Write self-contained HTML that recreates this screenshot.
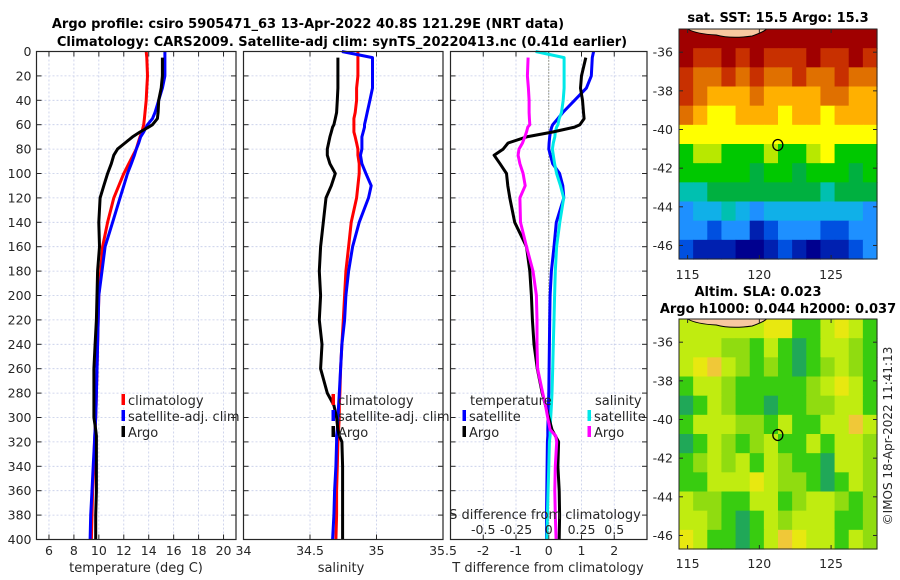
<!DOCTYPE html>
<html><head><meta charset="utf-8">
<style>
html,body{margin:0;padding:0;background:#fff;}
svg{display:block;font-family:"DejaVu Sans","Liberation Sans",sans-serif;}
</style></head>
<body>
<svg id="fig" width="900" height="580" viewBox="0 0 900 580" xmlns="http://www.w3.org/2000/svg">
<text x="308" y="28" text-anchor="middle" font-size="13" font-weight="bold" fill="#000">Argo profile: csiro 5905471_63 13-Apr-2022 40.8S 121.29E (NRT data)</text>
<text x="342" y="46" text-anchor="middle" font-size="13" font-weight="bold" fill="#000">Climatology: CARS2009. Satellite-adj clim: synTS_20220413.nc (0.41d earlier)</text>
<text x="778" y="22" text-anchor="middle" font-size="13" font-weight="bold">sat. SST: 15.5 Argo: 15.3</text>
<text x="758" y="296" text-anchor="middle" font-size="13" font-weight="bold">Altim. SLA: 0.023</text>
<text x="778" y="313" text-anchor="middle" font-size="13" font-weight="bold">Argo h1000: 0.044 h2000: 0.037</text>
<text transform="translate(892,436) rotate(-90)" text-anchor="middle" font-size="12" fill="#262626">©IMOS 18-Apr-2022 11:41:13</text>
<g id="g"></g>
</svg>
<script>
// ---- depths (dbar) ----
const depths = [0,5,20,30,40,50,55,60,62,66,70,75,80,85,92,100,110,120,140,160,180,200,220,240,260,280,290,300,310,315,320,340,360,380,400];
// temperature (deg C)
const tClim = [13.8,13.85,13.9,13.85,13.8,13.7,13.65,13.6,13.55,13.45,13.3,13.15,13.0,12.75,12.4,12.0,11.6,11.2,10.7,10.3,10.15,10.0,9.95,9.9,9.85,9.8,9.78,9.75,9.7,9.68,9.65,9.6,9.5,9.45,9.4];
const tSat  = [15.3,15.3,15.3,15.1,14.8,14.5,14.3,13.9,13.8,13.6,13.35,13.2,13.0,12.85,12.6,12.3,12.0,11.7,11.1,10.5,10.25,10.0,9.95,9.9,9.85,9.8,9.78,9.75,9.7,9.67,9.65,9.55,9.45,9.35,9.3];
const tArgo = [null,15.1,15.1,15.0,14.8,14.75,14.7,14.3,14.0,13.3,12.7,12.1,11.5,11.2,11.0,10.7,10.4,10.1,10.0,10.05,9.9,9.85,9.8,9.7,9.6,9.6,9.6,9.6,9.75,9.8,9.8,9.8,9.8,9.75,9.75];
// salinity
const sClim = [34.86,34.86,34.86,34.85,34.85,34.84,34.83,34.83,34.83,34.83,34.84,34.85,34.86,34.86,34.87,34.87,34.86,34.85,34.81,34.79,34.77,34.76,34.75,34.74,34.73,34.725,34.72,34.72,34.715,34.71,34.71,34.705,34.70,34.70,34.695];
const sSat  = [34.74,34.97,34.97,34.97,34.95,34.93,34.92,34.91,34.91,34.90,34.89,34.89,34.89,34.88,34.89,34.92,34.96,34.94,34.87,34.82,34.79,34.77,34.76,34.74,34.73,34.72,34.715,34.71,34.705,34.70,34.70,34.695,34.685,34.68,34.67];
const sArgo = [null,34.71,34.71,34.71,34.705,34.70,34.69,34.68,34.67,34.66,34.65,34.64,34.63,34.63,34.65,34.69,34.66,34.62,34.60,34.58,34.57,34.58,34.57,34.59,34.58,34.63,34.68,34.70,34.71,34.72,34.74,34.745,34.745,34.745,34.745];
// differences from climatology
const dTSat  = [1.37,1.33,1.3,1.15,0.79,0.43,0.28,0.12,0.09,0.05,0.03,0.01,0.0,0.05,0.12,0.33,0.43,0.46,0.23,0.16,0.08,0.04,0.03,0.02,0.01,0.0,-0.01,-0.02,-0.03,-0.03,-0.04,-0.05,-0.06,-0.07,-0.07];
const dSSat  = [-0.10,0.117,0.117,0.117,0.11,0.097,0.08,0.07,0.06,0.05,0.046,0.035,0.028,0.035,0.045,0.06,0.09,0.114,0.084,0.06,0.05,0.045,0.04,0.035,0.03,0.025,0.02,0.015,0.01,0.01,0.005,0.0,-0.005,-0.01,-0.015];
const dTArgo = [null,1.13,1.0,0.97,1.03,1.06,1.08,0.95,0.79,0.12,-0.68,-1.24,-1.39,-1.67,-1.49,-1.29,-1.25,-1.19,-1.04,-0.68,-0.58,-0.53,-0.5,-0.45,-0.35,-0.2,-0.1,0.0,0.1,0.2,0.3,0.28,0.32,0.33,0.32];
const dSArgo = [null,-0.158,-0.163,-0.155,-0.15,-0.15,-0.148,-0.145,-0.16,-0.17,-0.183,-0.2,-0.227,-0.234,-0.22,-0.196,-0.18,-0.22,-0.216,-0.17,-0.12,-0.094,-0.09,-0.09,-0.085,-0.046,-0.025,-0.008,0.01,0.053,0.061,0.05,0.046,0.05,0.056];
// axis ticks
const depthTicks = [0,20,40,60,80,100,120,140,160,180,200,220,240,260,280,300,320,340,360,380,400];
const tTicks = [6,8,10,12,14,16,18,20];
const sTicks = [34,34.5,35,35.5];
const dTTicks = [-2,-1,0,1,2];
const dSTicks = [-0.5,-0.25,0,0.25,0.5];
const latTicks = [-36,-38,-40,-42,-44,-46];
const lonTicks = [115,120,125];
// argo float position
const argoLon = 121.29, argoLat = -40.8;
// SST map grid (palette index), rows north->south, cols west->east
const sstPalette = ['#00008f','#0020b0','#0050e0','#1e90ff','#10b0e8','#00c0b0','#00b040','#00c800','#b8e800','#ffff00','#ffb000','#e07000','#c83000','#a00000'];
const sstGrid = [
[13,13,13,13,13,13,13,13,13,13,13,13,13,13],
[13,12,12,13,12,13,12,12,12,13,12,12,13,12],
[12,11,11,12,11,12,11,11,12,11,11,12,11,11],
[12,11,10,10,10,11,10,10,10,10,11,11,10,10],
[11,10,9,9,10,10,10,9,10,10,9,10,10,10],
[9,9,9,9,9,9,9,9,9,9,9,9,9,9],
[7,8,8,7,7,7,8,7,7,8,9,7,7,7],
[7,7,7,7,7,6,7,7,6,7,7,7,6,7],
[5,5,6,6,6,6,6,6,6,6,5,6,6,6],
[3,4,4,5,4,3,4,4,4,4,4,4,4,3],
[3,3,2,3,3,1,2,3,3,3,2,2,3,3],
[2,1,1,1,0,0,1,2,1,0,1,1,2,3]];
const slaPalette = ['#20a858','#38cc10','#90dc10','#c0ec10','#e8e810','#f0c838'];
const slaGrid = [
[3,3,3,3,3,3,4,4,1,1,3,4,3,1],
[3,3,3,2,2,1,3,1,0,1,3,3,2,1],
[3,4,5,3,2,1,2,1,0,1,2,3,2,1],
[1,3,3,2,1,1,1,1,1,2,3,4,3,1],
[0,1,3,2,1,1,0,1,1,2,2,3,3,1],
[1,3,3,3,2,2,1,3,1,1,3,3,5,3],
[0,1,3,2,1,2,3,1,1,3,1,3,3,2],
[1,2,3,2,3,1,3,2,1,1,0,3,3,2],
[1,1,3,3,3,4,3,2,2,1,0,1,3,2],
[3,2,2,1,1,3,3,1,2,3,3,2,1,2],
[3,3,2,1,0,1,3,2,3,3,3,1,1,2],
[4,3,1,1,0,1,3,5,4,3,3,1,3,2]];

const NS='http://www.w3.org/2000/svg';
const root=document.getElementById('g');
function el(tag,attrs,parent){const e=document.createElementNS(NS,tag);for(const k in attrs)e.setAttribute(k,attrs[k]);(parent||root).appendChild(e);return e;}
function txt(s,attrs,parent){const e=el('text',attrs,parent);e.textContent=s;return e;}

const Y0=51.5,Y1=539.5;
const yD=d=>Y0+(d/400)*(Y1-Y0);
function lin(d0,d1,p0,p1){return v=>p0+(v-d0)/(d1-d0)*(p1-p0);}

function panel(name,x0,x1,xs,ticks,tickFmt,showY){
  const g=el('g',{});
  
  
  for(const d of depthTicks){const l=el('line',{x1:x0,x2:x1,y1:yD(d),y2:yD(d),stroke:'#c4cbe8','stroke-width':0.8,'stroke-dasharray':'2,2'},g);
    }
  for(const t of ticks){const x=xs(t);const l=el('line',{x1:x,x2:x,y1:Y0,y2:Y1,stroke:'#c4cbe8','stroke-width':0.8,'stroke-dasharray':'2,2'},g);
    }
  for(const d of depthTicks){el('line',{x1:x0,x2:x0+5,y1:yD(d),y2:yD(d),stroke:'#262626'},g);el('line',{x1:x1-5,x2:x1,y1:yD(d),y2:yD(d),stroke:'#262626'},g);
    if(showY){const t=txt(String(d),{x:x0-5,y:yD(d)+4.5,'text-anchor':'end','font-size':12.5,fill:'#262626'},g);}}
  for(const t of ticks){const x=xs(t);el('line',{x1:x,x2:x,y1:Y1,y2:Y1-5,stroke:'#262626'},g);el('line',{x1:x,x2:x,y1:Y0,y2:Y0+5,stroke:'#262626'},g);
    if(tickFmt){const tl=txt(tickFmt(t),{x:x,y:555,'text-anchor':'middle','font-size':12.5,fill:'#262626'},g);}}
  return g;
}
function frame(g,x0,x1){const r=el('rect',{x:x0,y:Y0,width:x1-x0,height:Y1-Y0,fill:'none',stroke:'#262626','stroke-width':1.2},g);}
function line(g,vals,xs,color,name,w){
  let d='';let pen=false;
  vals.forEach((v,i)=>{if(v===null){pen=false;return;}d+=(pen?'L':'M')+xs(v).toFixed(1)+','+yD(depths[i]).toFixed(1);pen=true;});
  const p=el('path',{d:d,fill:'none',stroke:color,'stroke-width':w||3,'stroke-linejoin':'round'},g);
  
  
}
function legendItem(g,x,y,color,label,name){
  const m=el('rect',{x:x-1.5,y:y-7,width:3.5,height:11,fill:color},g);
  
  const t=txt(label,{x:x+5,y:y+4,'font-size':13,fill:'#262626'},g);
  
}

// Panel 1 temperature
const xT=lin(5,21,36.5,236);
const p1=panel('temperature-panel',36.5,236,xT,tTicks,t=>String(t),true);
line(p1,tClim,xT,'#ff0000','temperature-climatology-line');
line(p1,tSat,xT,'#0000ff','temperature-satellite-line');
line(p1,tArgo,xT,'#000000','temperature-argo-line');
frame(p1,36.5,236);
legendItem(p1,123,401,'#ff0000','climatology','legend-climatology');
legendItem(p1,123,417,'#0000ff','satellite-adj. clim','legend-satellite');
legendItem(p1,123,433,'#000000','Argo','legend-argo');
const xl1=txt('temperature (deg C)',{x:136,y:572,'text-anchor':'middle','font-size':13,fill:'#262626'},p1);


// Panel 2 salinity
const xS=lin(34,35.5,243.5,443);
const p2=panel('salinity-panel',243.5,443,xS,sTicks,t=>String(t),false);
line(p2,sClim,xS,'#ff0000','salinity-climatology-line');
line(p2,sSat,xS,'#0000ff','salinity-satellite-line');
line(p2,sArgo,xS,'#000000','salinity-argo-line');
frame(p2,243.5,443);
legendItem(p2,333,401,'#ff0000','climatology','legend-climatology');
legendItem(p2,333,417,'#0000ff','satellite-adj. clim','legend-satellite');
legendItem(p2,333,433,'#000000','Argo','legend-argo');
const xl2=txt('salinity',{x:341,y:572,'text-anchor':'middle','font-size':13,fill:'#262626'},p2);


// Panel 3 differences
const xDT=lin(-3,3,450.5,647);
const xDS=v=>xDT(v*4);
const p3=panel('difference-panel',450.5,647,xDT,dTTicks,t=>String(t),false);
const zl=el('line',{x1:xDT(0),x2:xDT(0),y1:Y0,y2:Y1,stroke:'#555533','stroke-width':1,'stroke-dasharray':'1,2'},p3);

line(p3,dTSat,xDT,'#0000ff','t-diff-satellite-line');
line(p3,dSSat,xDS,'#00e8e8','s-diff-satellite-line');
line(p3,dTArgo,xDT,'#000000','t-diff-argo-line');
line(p3,dSArgo,xDS,'#ff00ff','s-diff-argo-line');
frame(p3,450.5,647);
const lt=txt('temperature',{x:470,y:405,'font-size':13,fill:'#262626'},p3);
const ls=txt('salinity',{x:595,y:405,'font-size':13,fill:'#262626'},p3);
legendItem(p3,464,417,'#0000ff','satellite','legend-t-satellite');
legendItem(p3,464,433,'#000000','Argo','legend-t-argo');
legendItem(p3,589,417,'#00e8e8','satellite','legend-s-satellite');
legendItem(p3,589,433,'#ff00ff','Argo','legend-s-argo');
const st=txt('S difference from climatology',{x:545,y:519,'text-anchor':'middle','font-size':13,fill:'#262626'},p3);

for(const s of dSTicks){const t=txt(String(s),{x:xDS(s),y:534,'text-anchor':'middle','font-size':12.5,fill:'#262626'},p3);
  }
const xl3=txt('T difference from climatology',{x:548,y:572,'text-anchor':'middle','font-size':13,fill:'#262626'},p3);


// Maps
function map(name,top,bottom,grid,pal,labelY){
  const L=679,R=877,lonL=114.4,lonR=128.2,latT=-34.8,latB=-46.7;
  const xs=lin(lonL,lonR,L,R), ys=lin(latT,latB,top,bottom);
  const g=el('g',{});
  
  
  const nr=grid.length,nc=grid[0].length;
  const cw=(R-L)/nc,ch=(bottom-top)/nr;
  grid.forEach((row,i)=>row.forEach((v,j)=>{
    const c=el('rect',{x:(L+j*cw).toFixed(2),y:(top+i*ch).toFixed(2),width:(cw+0.6).toFixed(2),height:(ch+0.6).toFixed(2),fill:pal[v]},g);
    
    
  }));
  const land=el('path',{d:`M${xs(115)},${top} Q${xs(115.6)},${top+5} ${xs(117)},${top+6} Q${xs(118)},${top+10} ${xs(119.5)},${top+7} Q${xs(120.3)},${top+3} ${xs(120.5)},${top} Z`,fill:'#f8c8a0',stroke:'#000','stroke-width':1},g);
  
  const fr=el('rect',{x:L,y:top,width:R-L,height:bottom-top,fill:'none',stroke:'#262626','stroke-width':1},g);
  
  for(const la of latTicks){const y=ys(la);el('line',{x1:L,x2:L+4,y1:y,y2:y,stroke:'#262626'},g);el('line',{x1:R,x2:R-4,y1:y,y2:y,stroke:'#262626'},g);
    const t=txt(String(la),{x:L-6,y:y+4.5,'text-anchor':'end','font-size':12.5,fill:'#262626'},g);}
  for(const lo of lonTicks){const x=xs(lo);el('line',{x1:x,x2:x,y1:bottom,y2:bottom-4,stroke:'#262626'},g);el('line',{x1:x,x2:x,y1:top,y2:top+4,stroke:'#262626'},g);
    const t=txt(String(lo),{x:x,y:labelY,'text-anchor':'middle','font-size':12.5,fill:'#262626'},g);}
  const m=el('ellipse',{cx:xs(argoLon),cy:ys(argoLat),rx:5,ry:5.5,fill:'none',stroke:'#000','stroke-width':1.3},g);
  
}
map('sst-map',29,259,sstGrid,sstPalette,279);
map('sla-map',319,549,slaGrid,slaPalette,568);
</script>
</body></html>
